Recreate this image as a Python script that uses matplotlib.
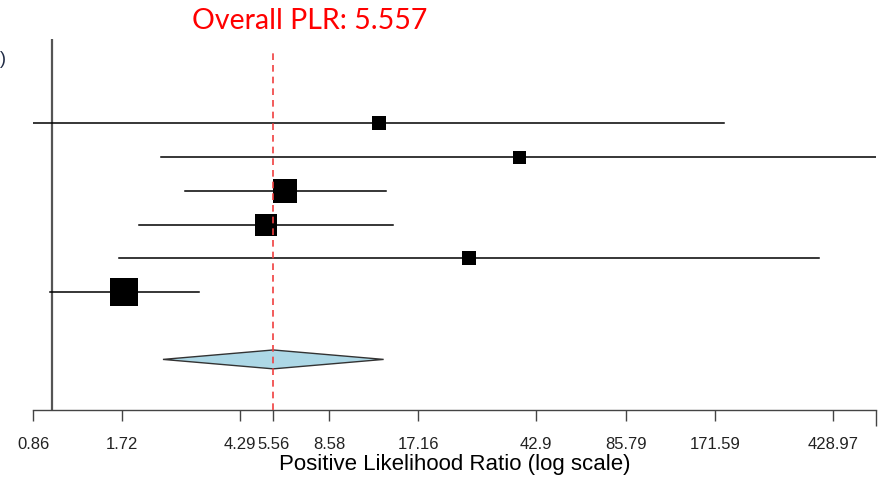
import matplotlib
matplotlib.use("Agg")
import matplotlib.pyplot as plt
from matplotlib.ticker import FixedLocator, NullFormatter
from matplotlib.patches import Polygon

# study rows (top to bottom): point estimate and 95% CI
plr = [12.6, 37.5, 6.09, 5.25, 25.4, 1.74]
ci_lo = [0.6, 2.32, 2.80, 1.96, 1.68, 0.98]
ci_hi = [184.0, 700.0, 13.3, 14.1, 385.0, 3.12]
box_px = [14, 13, 24, 22, 14, 28]   # relative study weight, as square side

pooled = 5.557
pooled_lo = 2.36
pooled_hi = 13.1

tick_vals = [0.86, 1.72, 4.29, 5.56, 8.58, 17.16, 42.9, 85.79, 171.59, 428.97]
tick_labels = ["0.86", "1.72", "4.29", "5.56", "8.58", "17.16", "42.9",
               "85.79", "171.59", "428.97"]
x_min, x_max = 0.86, 600.0

DPI = 100
fig = plt.figure(figsize=(8.79, 4.81), dpi=DPI)
ax = fig.add_axes([33 / 879, 1 - 411 / 481, (876 - 33) / 879, (411 - 40) / 481])
ax.set_xscale("log")
ax.set_xlim(x_min, x_max)
ax.set_ylim(0, 11)

rows_y = [8.5, 7.5, 6.5, 5.5, 4.5, 3.5]
pooled_y = 1.5

# null line and pooled estimate line
ax.axvline(1.0, color="#555555", lw=1.6, zorder=1)
ax.plot([pooled, pooled], [0, 10.7], color="#f04040", lw=1.2,
        ls=(0, (4, 3)), zorder=4)

for y, p, lo, hi, s in zip(rows_y, plr, ci_lo, ci_hi, box_px):
    ax.plot([lo, hi], [y, y], color="black", lw=1.1, zorder=2)
    ax.plot([p], [y], marker="s", color="black", markersize=s * 72 / DPI,
            markeredgewidth=0, zorder=3)

h = 0.28
diamond = Polygon([[pooled_lo, pooled_y], [pooled, pooled_y + h],
                   [pooled_hi, pooled_y], [pooled, pooled_y - h]],
                  closed=True, facecolor="#add8e6", edgecolor="#333333",
                  lw=1.0, zorder=3)
ax.add_patch(diamond)

for side in ["top", "left", "right"]:
    ax.spines[side].set_visible(False)
ax.spines["bottom"].set_color("#444444")
ax.spines["bottom"].set_linewidth(1.0)
ax.set_yticks([])

ax.xaxis.set_major_locator(FixedLocator(tick_vals))
ax.set_xticklabels(tick_labels)
ax.xaxis.set_minor_locator(FixedLocator([x_min, x_max]))
ax.xaxis.set_minor_formatter(NullFormatter())
ax.tick_params(axis="x", which="major", length=8, width=1.0, color="#444444",
               labelsize=12, labelcolor="#222222", pad=11,
               labelfontfamily="Liberation Sans")
ax.tick_params(axis="x", which="minor", length=11.5, width=1.0, color="#444444")
ax.set_xlabel("Positive Likelihood Ratio (log scale)", fontsize=16,
              family="Liberation Sans", labelpad=1)

fig.text(310 / 879, 1 - 21 / 481, "Overall PLR: 5.557", color="red",
         fontsize=20.5, family="Lato", ha="center", va="center")
fig.text(0.0, 1 - 60 / 481, ")", color="#1f2a44", fontsize=13,
         family="Liberation Sans", ha="left", va="center")

fig.savefig("out.png", dpi=DPI)
